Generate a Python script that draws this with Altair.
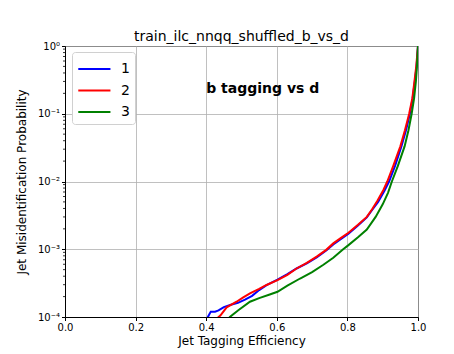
import altair as alt
import pandas as pd

# ---- data ----
blue_x = [0.400, 0.407, 0.413, 0.425, 0.435, 0.450, 0.470, 0.490, 0.510, 0.530, 0.550, 0.571,
          0.602, 0.630, 0.656, 0.685, 0.713, 0.740, 0.760, 0.780, 0.803, 0.830, 0.855, 0.870,
          0.887, 0.905, 0.918, 0.935, 0.953, 0.966, 0.977, 0.985, 0.991, 0.996, 1.000]
blue_y = [0.9e-4, 1.05e-4, 1.2e-4, 1.2e-4, 1.25e-4, 1.4e-4, 1.52e-4, 1.62e-4, 1.8e-4, 2.05e-4,
          2.5e-4, 2.95e-4, 3.55e-4, 4.3e-4, 5.2e-4, 6.2e-4, 7.6e-4, 9.6e-4, 1.18e-3, 1.4e-3,
          1.7e-3, 2.25e-3, 2.95e-3, 3.8e-3, 5.0e-3, 7.3e-3, 1.0e-2, 0.017, 0.033, 0.057, 0.10,
          0.17, 0.30, 0.50, 1.0]

red_x = [0.425, 0.440, 0.458, 0.486, 0.505, 0.524, 0.550, 0.571, 0.602, 0.630, 0.656, 0.685,
         0.713, 0.740, 0.760, 0.780, 0.803, 0.830, 0.855, 0.870, 0.885, 0.902, 0.913, 0.930,
         0.950, 0.963, 0.975, 0.984, 0.990, 0.995, 1.000]
red_y = [0.9e-4, 1.05e-4, 1.39e-4, 1.68e-4, 1.95e-4, 2.24e-4, 2.6e-4, 2.97e-4, 3.5e-4, 4.2e-4,
         5.2e-4, 6.3e-4, 7.8e-4, 9.8e-4, 1.22e-3, 1.45e-3, 1.75e-3, 2.3e-3, 3.0e-3, 3.9e-3,
         5.2e-3, 7.5e-3, 1.0e-2, 0.017, 0.033, 0.057, 0.10, 0.17, 0.30, 0.50, 1.0]

green_x = [0.460, 0.467, 0.490, 0.524, 0.550, 0.580, 0.602, 0.630, 0.666, 0.700, 0.732, 0.760,
           0.788, 0.803, 0.830, 0.855, 0.880, 0.900, 0.915, 0.926, 0.943, 0.962, 0.973, 0.982,
           0.989, 0.994, 0.997, 1.000]
green_y = [0.9e-4, 1.0e-4, 1.25e-4, 1.68e-4, 1.9e-4, 2.15e-4, 2.36e-4, 2.9e-4, 3.7e-4, 4.6e-4,
           5.9e-4, 7.5e-4, 1.0e-3, 1.15e-3, 1.5e-3, 1.95e-3, 3.0e-3, 4.6e-3, 6.8e-3, 1.0e-2,
           0.017, 0.033, 0.057, 0.10, 0.17, 0.30, 0.50, 1.0]

series_names = ["1", "2", "3"]
series_colors = ["#0000ff", "#ff0000", "#008000"]

x_ticks = [0.0, 0.2, 0.4, 0.6, 0.8, 1.0]
y_ticks = [1e-4, 1e-3, 1e-2, 1e-1, 1.0]
y_tick_labels = ["10⁻⁴", "10⁻³", "10⁻²", "10⁻¹", "10⁰"]
y_minor = [m * 10.0 ** k for k in range(-4, 0) for m in range(2, 10)]

title_text = "train_ilc_nnqq_shuffled_b_vs_d"
annot_text = ["b tagging vs d"]
annot_x = [0.4]
annot_y = [0.2]

rows = []
for name, xs, ys in zip(series_names, [blue_x, red_x, green_x], [blue_y, red_y, green_y]):
    for i, (a, b) in enumerate(zip(xs, ys)):
        rows.append({"series": name, "x": a, "y": b, "order": i})
df = pd.DataFrame(rows)

FONT = "DejaVu Sans"
xscale = alt.Scale(domain=[0, 1], nice=False, zero=False)
yscale = alt.Scale(type="log", domain=[1e-4, 1], nice=False)

label_expr = "[" + ",".join("'" + s + "'" for s in y_tick_labels) + "][round(log(datum.value)/LN10)+4]"

lines = alt.Chart(df).mark_line(strokeWidth=2, clip=True).encode(
    x=alt.X("x:Q", scale=xscale, title="Jet Tagging Efficiency",
            axis=alt.Axis(values=x_ticks, format=".1f", grid=True, labelFlush=False)),
    y=alt.Y("y:Q", scale=yscale, title="Jet Misidentification Probability",
            axis=alt.Axis(values=y_ticks, labelExpr=label_expr, grid=True, labelFlush=False)),
    color=alt.Color("series:N",
                    scale=alt.Scale(domain=series_names, range=series_colors),
                    legend=alt.Legend(title=None, orient="none", legendX=7, legendY=6,
                                      symbolType="M-1,0H2", symbolSize=460,
                                      symbolStrokeWidth=2, labelFontSize=14,
                                      labelFont=FONT, fillColor="white",
                                      strokeColor="#d0d0d0", cornerRadius=3,
                                      padding=5, rowPadding=2.5, labelOffset=20)),
    order="order:O",
)

minor = alt.Chart(pd.DataFrame({"v": y_minor})).mark_rule(color="black", strokeWidth=0.8, clip=False).encode(
    y=alt.Y("v:Q", scale=yscale),
    x=alt.value(0), x2=alt.value(-2),
)

annot = alt.Chart(pd.DataFrame({"t": annot_text, "x": annot_x, "y": annot_y})).mark_text(
    align="left", baseline="alphabetic", fontSize=14, fontWeight="bold", font=FONT, color="black"
).encode(x=alt.X("x:Q", scale=xscale), y=alt.Y("y:Q", scale=yscale), text="t:N")

chart = alt.layer(lines, minor, annot).properties(
    width=353, height=271,
    title=alt.TitleParams(title_text, fontSize=14, font=FONT, fontWeight="normal", offset=6,
                          anchor="middle", dy=9),
    autosize=alt.AutoSizeParams(type="none"),
    padding={"left": 57, "top": 38, "right": 28, "bottom": 33},
).configure_view(stroke="black", strokeWidth=1).configure_axis(
    labelFont=FONT, titleFont=FONT, labelFontSize=10, titleFontSize=12, titleFontWeight="normal",
    gridColor="#b0b0b0", gridWidth=0.8, domainColor="black", tickColor="black",
    tickSize=3.5, labelColor="black", titleColor="black", labelPadding=2,
).configure_axisX(titlePadding=3).configure_axisY(titlePadding=9, labelPadding=2)

chart.save("out.html", embed_options={"renderer": "svg", "actions": False})
